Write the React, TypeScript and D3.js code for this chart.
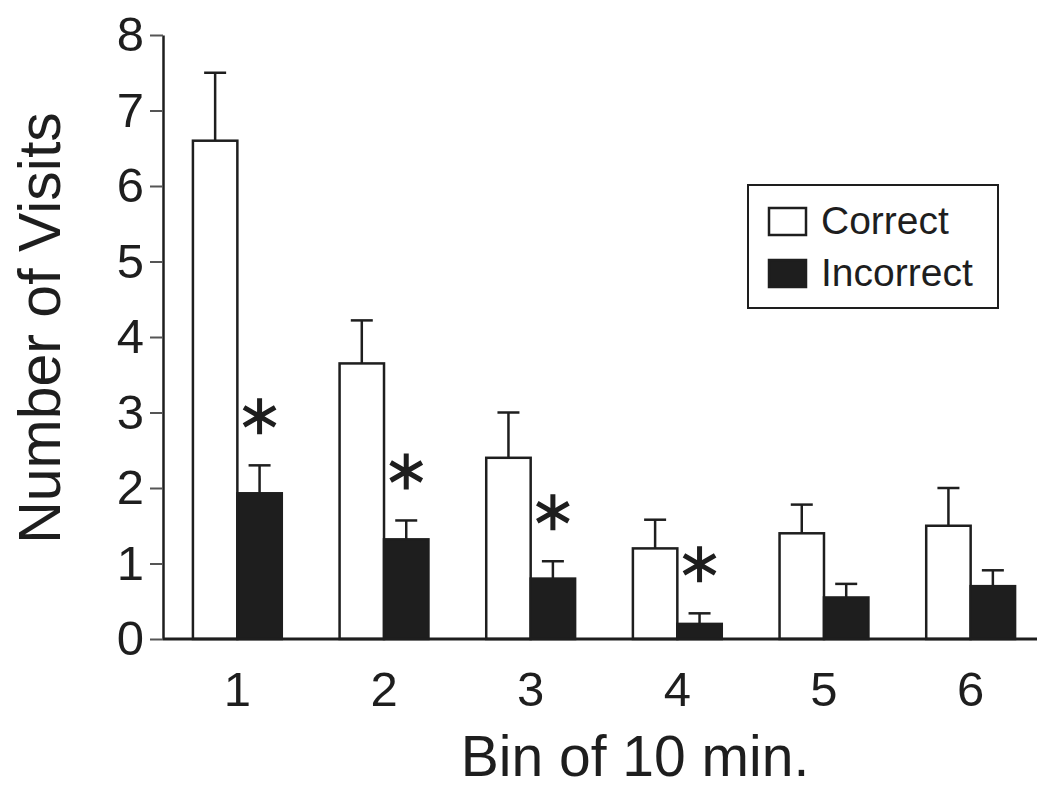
import React, { useEffect, useRef } from 'react';
import * as d3 from 'd3';

// bins of 10 minutes
const bins = ['1', '2', '3', '4', '5', '6'];
const series = ['Correct', 'Incorrect'];

// mean number of visits and SEM
const correctMeans = [6.6, 3.65, 2.4, 1.2, 1.4, 1.5];
const correctSem = [0.9, 0.57, 0.6, 0.38, 0.38, 0.5];
const incorrectMeans = [1.93, 1.32, 0.8, 0.2, 0.55, 0.7];
const incorrectSem = [0.37, 0.25, 0.23, 0.14, 0.18, 0.21];

// bins where correct vs incorrect differ (asterisk)
const significant = [true, true, true, true, false, false];

const yTicks = [0, 1, 2, 3, 4, 5, 6, 7, 8];

const INK = '#1e1e1e';
const FONT = '"Liberation Sans", Arial, sans-serif';

const App = () => {
  const ref = useRef<SVGSVGElement>(null);

  useEffect(() => {
    const svg = d3.select(ref.current);
    svg.selectAll('*').remove();

    const W = 1037;
    const H = 789;
    const left = 163;
    const bottom = 639;
    const top = 35;

    const y = d3.scaleLinear().domain([0, 8]).range([bottom, top]);
    const x = d3
      .scaleBand()
      .domain(bins)
      .range([left, 1045])
      .paddingInner(0.394)
      .paddingOuter(0.204);
    const xSub = d3.scaleBand().domain(series).range([0, x.bandwidth()]);

    const rows = bins.map((b, i) => ({
      bin: b,
      values: [
        { key: 'Correct', mean: correctMeans[i], sem: correctSem[i] },
        { key: 'Incorrect', mean: incorrectMeans[i], sem: incorrectSem[i] },
      ],
      sig: significant[i],
    }));

    // y axis
    const yAxis = svg
      .append('g')
      .attr('transform', `translate(${left},0)`)
      .call(
        d3
          .axisLeft(y)
          .tickValues(yTicks)
          .tickSize(13)
          .tickSizeOuter(0)
          .tickPadding(6)
          .tickFormat(d3.format('d'))
      );
    yAxis.select('.domain').attr('stroke', INK).attr('stroke-width', 2.5);
    yAxis.selectAll('.tick line').attr('stroke', '#555').attr('stroke-width', 2);
    yAxis
      .selectAll('.tick text')
      .attr('fill', INK)
      .style('font-family', FONT)
      .style('font-size', '49px');

    // groups of bars
    const g = svg
      .append('g')
      .selectAll('g')
      .data(rows)
      .join('g')
      .attr('transform', (d) => `translate(${x(d.bin)},0)`);

    // error bars (upper only)
    g.selectAll('g.err')
      .data((d) => d.values)
      .join('g')
      .attr('class', 'err')
      .each(function (d) {
        const cx = (xSub(d.key) as number) + xSub.bandwidth() / 2;
        const e = d3.select(this);
        e.append('line')
          .attr('x1', cx)
          .attr('x2', cx)
          .attr('y1', y(d.mean))
          .attr('y2', y(d.mean + d.sem))
          .attr('stroke', INK)
          .attr('stroke-width', 2.5);
        e.append('line')
          .attr('x1', cx - 11)
          .attr('x2', cx + 11)
          .attr('y1', y(d.mean + d.sem))
          .attr('y2', y(d.mean + d.sem))
          .attr('stroke', INK)
          .attr('stroke-width', 2.5);
      });

    g.selectAll('rect')
      .data((d) => d.values)
      .join('rect')
      .attr('x', (d) => xSub(d.key) as number)
      .attr('width', xSub.bandwidth())
      .attr('y', (d) => y(d.mean))
      .attr('height', (d) => bottom - y(d.mean))
      .attr('fill', (d) => (d.key === 'Correct' ? '#ffffff' : INK))
      .attr('stroke', INK)
      .attr('stroke-width', 2.5);

    // asterisks above the incorrect bars
    const star = (s: number) =>
      [90, 30, 150]
        .map((a) => {
          const r = (a * Math.PI) / 180;
          const dx = Math.cos(r) * s;
          const dy = Math.sin(r) * s;
          return `M${-dx},${dy}L${dx},${-dy}`;
        })
        .join('');

    g.filter((d) => d.sig)
      .append('path')
      .attr('transform', (d) => {
        const v = d.values[1];
        const cx = (xSub('Incorrect') as number) + xSub.bandwidth() / 2;
        return `translate(${cx},${y(v.mean + v.sem) - 49})`;
      })
      .attr('d', star(18))
      .attr('stroke', INK)
      .attr('stroke-width', 5)
      .attr('fill', 'none');

    // x axis
    svg
      .append('line')
      .attr('x1', left)
      .attr('x2', W)
      .attr('y1', bottom)
      .attr('y2', bottom)
      .attr('stroke', INK)
      .attr('stroke-width', 3);

    const xAxis = svg
      .append('g')
      .attr('transform', `translate(0,${bottom})`)
      .call(d3.axisBottom(x).tickSize(0).tickPadding(32));
    xAxis.select('.domain').remove();
    xAxis
      .selectAll('.tick text')
      .attr('fill', INK)
      .style('font-family', FONT)
      .style('font-size', '49px');

    // axis titles
    svg
      .append('text')
      .attr('transform', `translate(60,328) rotate(-90)`)
      .attr('text-anchor', 'middle')
      .attr('fill', INK)
      .style('font-family', FONT)
      .style('font-size', '59px')
      .text('Number of Visits');

    svg
      .append('text')
      .attr('x', 635)
      .attr('y', 776)
      .attr('text-anchor', 'middle')
      .attr('fill', INK)
      .style('font-family', FONT)
      .style('font-size', '57px')
      .text('Bin of 10 min.');

    // legend
    const lg = svg.append('g');
    lg.append('rect')
      .attr('x', 748)
      .attr('y', 185)
      .attr('width', 250)
      .attr('height', 123)
      .attr('fill', '#fff')
      .attr('stroke', INK)
      .attr('stroke-width', 2);
    series.forEach((s, i) => {
      const yy = 208 + i * 52;
      lg.append('rect')
        .attr('x', 769)
        .attr('y', yy)
        .attr('width', 37)
        .attr('height', 27)
        .attr('fill', s === 'Correct' ? '#fff' : INK)
        .attr('stroke', INK)
        .attr('stroke-width', 2.5);
      lg.append('text')
        .attr('x', 821)
        .attr('y', yy + 26)
        .attr('fill', INK)
        .style('font-family', FONT)
        .style('font-size', '39px')
        .text(s);
    });

    svg.attr('width', W).attr('height', H);
  }, []);

  return (
    <svg
      ref={ref}
      width={1037}
      height={789}
      style={{ position: 'absolute', left: 0, top: 0, background: '#fff' }}
    />
  );
};

export default App;
